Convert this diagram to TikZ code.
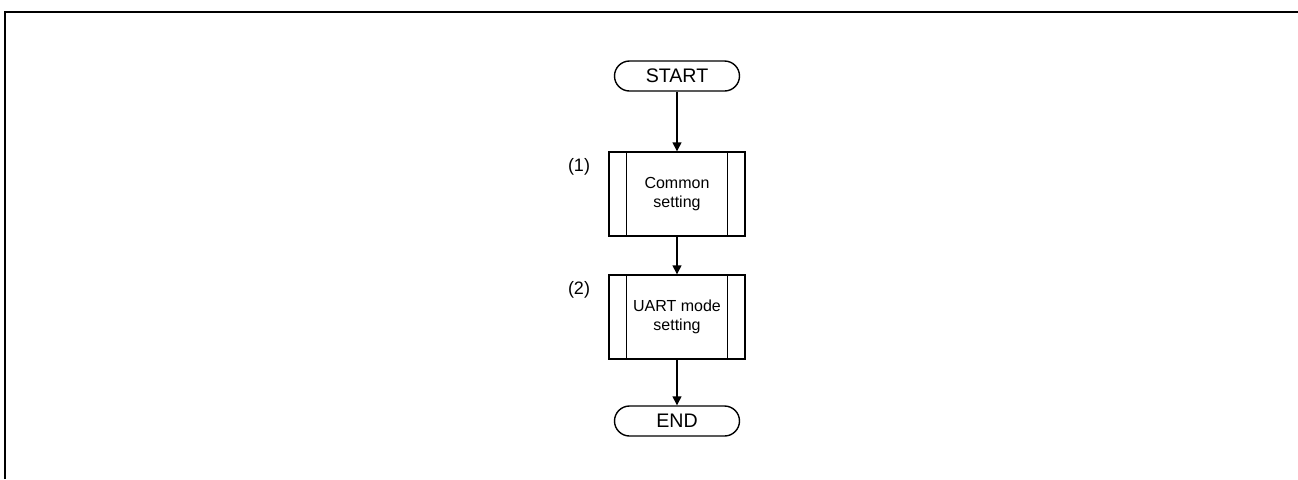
\documentclass[tikz,border=0pt]{standalone}
\usepackage{fontspec}
\setmainfont{Liberation Sans}
\usetikzlibrary{positioning, arrows.meta}
\tikzset{
  terminal/.style = {draw, line width=0.7pt, rounded corners=7.5pt, minimum width=62.5pt, minimum height=15pt, inner sep=0pt, font=\fontsize{9.8}{10}\selectfont},
  subproc/.style  = {draw, line width=0.7pt, minimum width=68pt, minimum height=42pt, inner sep=0pt, align=center, font=\fontsize{8}{9.5}\selectfont},
  tag/.style      = {font=\fontsize{9}{10}\selectfont},
  arr/.style      = {-{Triangle[length=4.5pt,width=4.5pt]}, line width=0.7pt}
}
\begin{document}
\begin{tikzpicture}[x=0.5pt, y=-0.5pt]
        \useasboundingbox (0,0) rectangle (1298,479);
        \draw[line width=1pt] (5,479) -- (5,12) -- (1298,12);
        \node[terminal] (start) at (677, 76)  {START};
        \node[subproc]  (b1)    at (677, 194) {Common\\setting};
        \node[subproc]  (b2)    at (677, 317) {UART mode\\setting};
        \node[terminal] (stop)  at (677, 421) {END};
        \node[tag] (l1) at (579, 167) {(1)};
        \node[tag] (l2) at (579, 290) {(2)};
        \foreach \b in {b1, b2}
          \draw[line width=0.7pt] ([xshift=9pt]\b.north west) -- ([xshift=9pt]\b.south west)
                                  ([xshift=-9pt]\b.north east) -- ([xshift=-9pt]\b.south east);
        \draw[arr] (start) -- (b1);
        \draw[arr] (b1) -- (b2);
        \draw[arr] (b2) -- (stop);
      \end{tikzpicture}
\end{document}
